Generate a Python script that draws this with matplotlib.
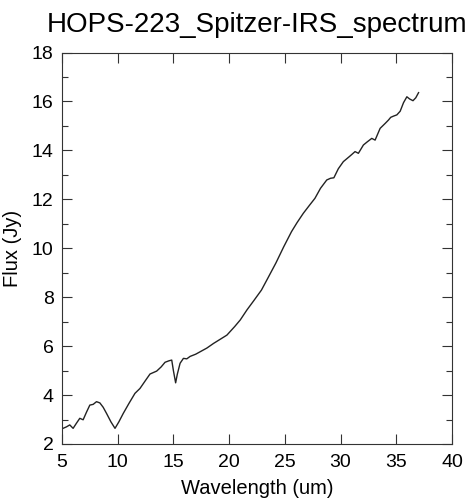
import matplotlib
matplotlib.use("Agg")
import matplotlib.pyplot as plt
from matplotlib.ticker import MultipleLocator

plt.rcParams['font.family'] = ['Liberation Sans', 'DejaVu Sans']

title = "HOPS-223_Spitzer-IRS_spectrum"
xlabel = "Wavelength (um)"
ylabel = "Flux (Jy)"

wavelength = [5.1, 5.4, 5.7, 6.0, 6.3, 6.6, 6.9, 7.2, 7.5, 7.8, 8.1, 8.4, 8.7, 9.0, 9.4,
              9.76, 10.1, 10.5, 11.0, 11.55, 12.0, 12.5, 12.9, 13.5, 13.9, 14.25, 14.6,
              14.85, 15.0, 15.2, 15.35, 15.6, 15.9, 16.2, 16.5, 17.0, 17.4, 18.0, 18.6,
              19.2, 19.8, 20.1, 20.5, 21.0, 21.6, 22.2, 22.9, 23.5, 24.2, 24.9, 25.6,
              26.1, 26.66, 27.2, 27.7, 28.2, 28.76, 29.1, 29.4, 29.8, 30.25, 30.8, 31.3,
              31.6, 32.05, 32.4, 32.8, 33.1, 33.55, 34.0, 34.3, 34.5, 34.75, 35.05, 35.35,
              35.65, 35.95, 36.2, 36.5, 36.75, 37.0]
flux = [2.64, 2.70, 2.78, 2.64, 2.85, 3.05, 2.99, 3.30, 3.59, 3.62, 3.73, 3.68, 3.50, 3.25,
        2.90, 2.64, 2.90, 3.25, 3.65, 4.07, 4.27, 4.60, 4.86, 4.98, 5.15, 5.34, 5.40, 5.43,
        5.00, 4.50, 4.85, 5.30, 5.50, 5.48, 5.58, 5.67, 5.77, 5.92, 6.11, 6.28, 6.45, 6.60,
        6.80, 7.07, 7.48, 7.85, 8.29, 8.80, 9.40, 10.06, 10.68, 11.05, 11.43, 11.75, 12.04,
        12.45, 12.79, 12.86, 12.88, 13.25, 13.54, 13.75, 13.95, 13.88, 14.22, 14.35, 14.49,
        14.42, 14.90, 15.10, 15.24, 15.35, 15.40, 15.45, 15.60, 15.95, 16.19, 16.10, 16.03,
        16.15, 16.36]

fig = plt.figure(figsize=(4.73, 5.0), dpi=100)
ax = fig.add_axes([0.131, 0.112, 0.8246, 0.783])
ax.plot(wavelength, flux, color='#222222', linewidth=1.0)
ax.set_xlim(5, 40)
ax.set_ylim(2, 18)
ax.xaxis.set_major_locator(MultipleLocator(5))
ax.yaxis.set_major_locator(MultipleLocator(2))
ax.yaxis.set_minor_locator(MultipleLocator(1))
ax.tick_params(which='both', direction='in', top=True, right=True, labelsize=14,
               color='#333333', width=0.8)
ax.tick_params(which='major', length=7)
ax.tick_params(which='minor', length=4)
ax.tick_params(axis='x', pad=7)
ax.tick_params(axis='y', pad=6)
for s in ax.spines.values():
    s.set_color('#333333')
    s.set_linewidth(0.8)
ax.set_xlabel(xlabel, fontsize=14.5, labelpad=6)
ax.set_ylabel(ylabel, fontsize=14.5, labelpad=7)
ax.set_title(title, fontsize=20, pad=15)
fig.savefig("out.png", dpi=100)
